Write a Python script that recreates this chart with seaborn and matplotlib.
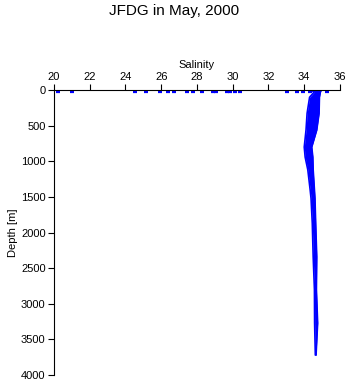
import matplotlib
matplotlib.use("Agg")
import matplotlib.pyplot as plt
import seaborn as sns
import pandas as pd

sns.set_style("white")
plt.rcParams['font.family'] = ['Liberation Sans', 'DejaVu Sans']
plt.rcParams['text.color'] = 'black'
plt.rcParams['axes.labelcolor'] = 'black'
plt.rcParams['xtick.color'] = 'black'
plt.rcParams['ytick.color'] = 'black'

# Profile envelope (many casts overlapping)
depth = [0, 30, 100, 325, 560, 800, 940, 1120, 1400, 1520, 1870, 2340, 2800, 3270, 3720]
sal_left = [34.4, 34.55, 34.3, 34.16, 34.1, 34.0, 34.05, 34.2, 34.33, 34.38, 34.45, 34.5, 34.57, 34.58, 34.62]
sal_right = [34.95, 34.9, 34.85, 34.83, 34.7, 34.42, 34.48, 34.5, 34.57, 34.6, 34.64, 34.7, 34.68, 34.75, 34.66]

# Scattered surface values
surf_sal = [20.22, 21.0, 24.55, 25.17, 25.96, 26.4, 26.69, 27.42, 27.8, 28.26, 28.88,
            29.04, 29.66, 29.83, 30.1, 30.4, 33.03, 33.6, 33.93, 34.33, 35.28]
surf_depth = [20] * len(surf_sal)

xticks = [20, 22, 24, 26, 28, 30, 32, 34, 36]
yticks = [0, 500, 1000, 1500, 2000, 2500, 3000, 3500, 4000]

fig = plt.figure(figsize=(3.48, 3.84), dpi=100)
ax = fig.add_axes([0.155, 0.0234, 0.822, 0.742])

blue = '#0000ff'
ax.fill_betweenx(depth, sal_left, sal_right, color=blue, lw=0)
df_l = pd.DataFrame({'s': sal_left, 'd': depth})
df_r = pd.DataFrame({'s': sal_right, 'd': depth})
sns.lineplot(data=df_l, x='s', y='d', sort=False, color=blue, lw=1.2, ax=ax, estimator=None)
sns.lineplot(data=df_r, x='s', y='d', sort=False, color=blue, lw=1.2, ax=ax, estimator=None)
sns.scatterplot(x=surf_sal, y=surf_depth, marker='_', s=9, linewidth=1.6, color=blue, ax=ax)

ax.set_xlim(20, 36)
ax.set_ylim(4000, 0)
ax.set_xticks(xticks)
ax.set_yticks(yticks)
ax.xaxis.tick_top()
ax.xaxis.set_label_position('top')
for sp in ['right', 'bottom']:
    ax.spines[sp].set_visible(False)
for sp in ['left', 'top']:
    ax.spines[sp].set_color('black')
    ax.spines[sp].set_linewidth(0.8)
ax.tick_params(axis='both', direction='out', length=4, width=0.8, labelsize=8,
               color='black', labelcolor='black', pad=2)
ax.tick_params(axis='x', top=True, bottom=False)
ax.tick_params(axis='y', left=True)
ax.set_xlabel('Salinity', fontsize=8, labelpad=3, color='black')
ax.set_ylabel('Depth [m]', fontsize=8, labelpad=2, color='black')
fig.suptitle('JFDG in May, 2000', fontsize=11, y=0.99, color='black')

fig.savefig('out.png', dpi=100)
